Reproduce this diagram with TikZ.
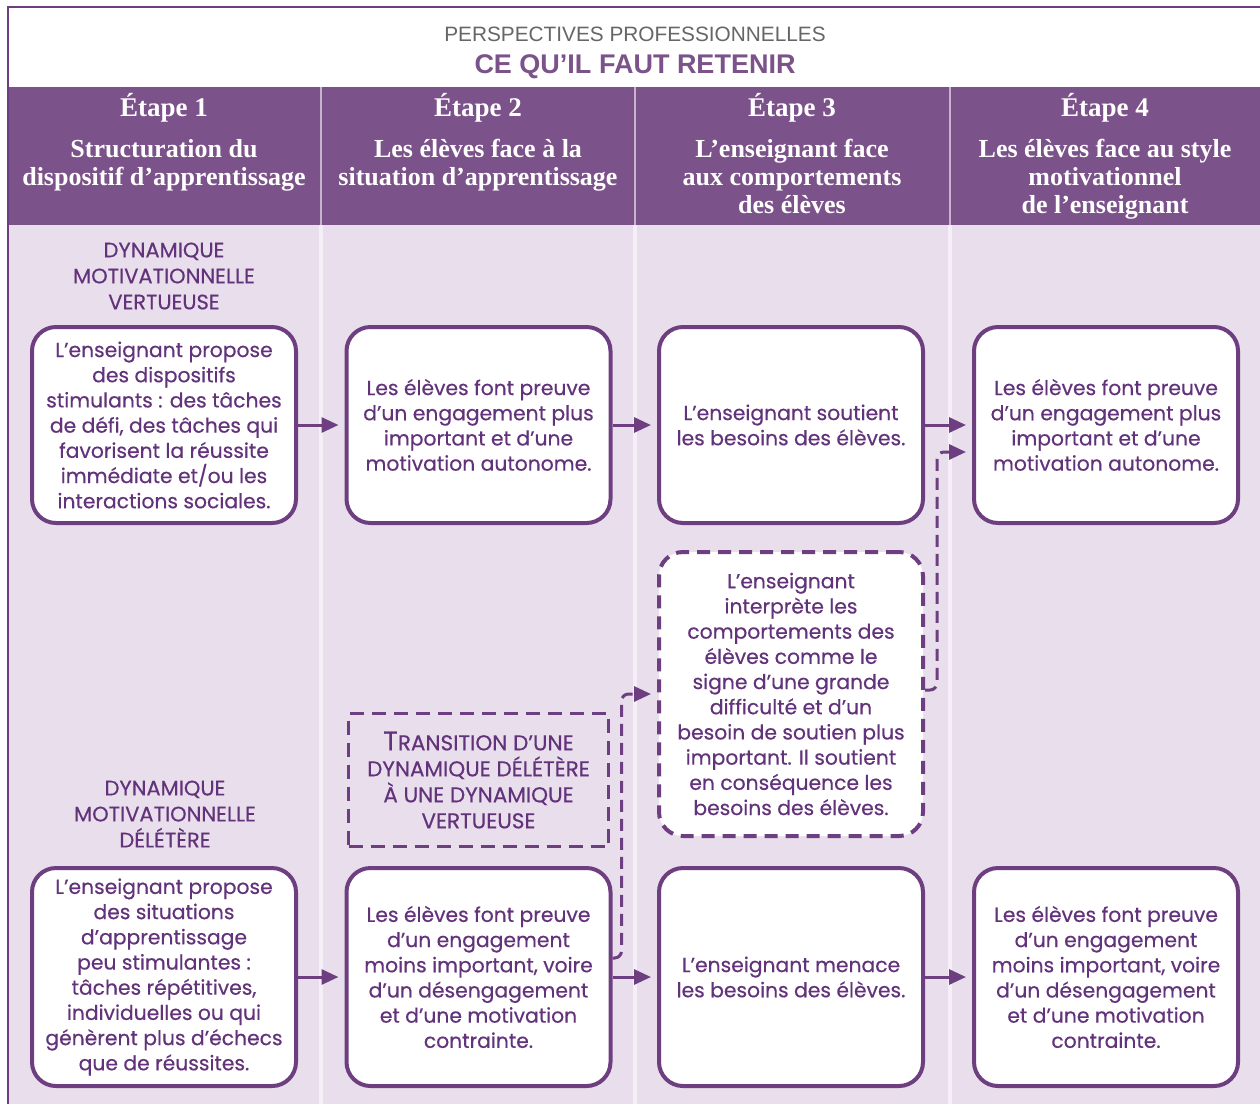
\documentclass[tikz,border=0pt]{standalone}
\usepackage{fontspec}
\setmainfont{Poppins}[FakeBold=0.4]
\newfontfamily\headfont{Liberation Serif}
\newfontfamily\titlefont{Liberation Sans}
\usetikzlibrary{positioning, arrows.meta, calc}
\definecolor{hdrpurple}{HTML}{7B5289}
\definecolor{linepurple}{HTML}{6E3F80}
\definecolor{txtpurple}{HTML}{62327A}
\definecolor{bodybg}{HTML}{E9DEEC}
\definecolor{sepline}{HTML}{F5F0F7}
\definecolor{hdrsep}{HTML}{C8B4CF}
\tikzset{
  stepbox/.style={draw=linepurple, line width=4pt, rounded corners=24pt, fill=white,
    minimum width=264pt, align=center, text=txtpurple, inner sep=0pt,
    font=\fontsize{20.3}{25.2}\selectfont},
  interpbox/.style={stepbox, dash pattern=on 13pt off 8pt},
  transbox/.style={draw=linepurple, line width=3.5pt, dash pattern=on 14pt off 8pt,
    minimum width=260pt, minimum height=133pt, align=center, text=txtpurple,
    font=\fontsize{21.5}{26}\selectfont},
  dynlabel/.style={align=center, text=txtpurple, font=\fontsize{21}{26}\selectfont},
  flowarrow/.style={draw=linepurple, line width=3pt, -{Triangle[length=17pt,width=15pt]},
    shorten >=6pt},
  dasharrow/.style={flowarrow, dash pattern=on 12pt off 7pt, rounded corners=7pt},
  etape/.style={text=white, font=\headfont\bfseries\fontsize{27}{28}\selectfont},
  etapesub/.style={text=white, align=center, anchor=north, inner sep=0pt,
    font=\headfont\bfseries\fontsize{26}{28}\selectfont}
}
\begin{document}
\begin{tikzpicture}[x=1pt, y=-1pt]
  \useasboundingbox (0,0) rectangle (1260,1104);

  % Backgrounds
  \fill[white] (0,0) rectangle (1260,1104);
  \fill[hdrpurple] (8,87) rectangle (1260,225);
  \fill[bodybg] (8,225) rectangle (1260,1104);
  \draw[linepurple, line width=2pt] (8,1104) -- (8,7) -- (1260,7);

  % Column separators
  \foreach \sx in {321,635,950} {
    \draw[hdrsep, line width=1.5pt] (\sx,87) -- (\sx,225);
    \draw[sepline, line width=3.5pt] (\sx,225) -- (\sx,1104);
  }

  % --- TITLE ---
  \node[text=black!60, font=\titlefont\fontsize{20.8}{22}\selectfont] (surtitre) at (635,34) {PERSPECTIVES PROFESSIONNELLES};
  \node[text=hdrpurple, font=\titlefont\bfseries\fontsize{27}{28}\selectfont] (titre) at (635,67) {CE QU’IL FAUT RETENIR};

  % --- HEADER COLUMNS ---
  \foreach \cx/\num/\sub in {164/1/{Structuration du\\dispositif d’apprentissage},
      478/2/{Les élèves face à la\\situation d’apprentissage},
      792/3/{L’enseignant face\\aux comportements\\des élèves},
      1105/4/{Les élèves face au style\\motivationnel\\de l’enseignant}} {
    \node[etape] (etape\num) at (\cx,108) {Étape \num};
    \node[etapesub] (sub\num) at (\cx,139) {\sub};
  }

  % --- DYNAMIC LABELS ---
  \node[dynlabel] (lblvert) at (164,276) {DYNAMIQUE\\MOTIVATIONNELLE\\VERTUEUSE};
  \node[dynlabel] (lbldel) at (165,814) {DYNAMIQUE\\MOTIVATIONNELLE\\DÉLÉTÈRE};

  % --- VIRTUOUS ROW ---
  \node[stepbox, minimum height=196pt] (vert1) at (164,425) {L’enseignant propose\\des dispositifs\\stimulants : des tâches\\de défi, des tâches qui\\favorisent la réussite\\immédiate et/ou les\\interactions sociales.};
  \node[stepbox, minimum height=196pt] (vert2) at (478.5,425) {Les élèves font preuve\\d’un engagement plus\\important et d’une\\motivation autonome.};
  \node[stepbox, minimum height=196pt] (vert3) at (791,425) {L’enseignant soutient\\les besoins des élèves.};
  \node[stepbox, minimum height=196pt] (vert4) at (1106,425) {Les élèves font preuve\\d’un engagement plus\\important et d’une\\motivation autonome.};

  % --- DELETERIOUS ROW ---
  \node[stepbox, minimum height=218pt] (del1) at (164,977) {L’enseignant propose\\des situations\\d’apprentissage\\peu stimulantes :\\tâches répétitives,\\individuelles ou qui\\génèrent plus d’échecs\\que de réussites.};
  \node[stepbox, minimum height=218pt] (del2) at (478.5,977) {Les élèves font preuve\\d’un engagement\\moins important, voire\\d’un désengagement\\et d’une motivation\\contrainte.};
  \node[stepbox, minimum height=218pt] (del3) at (791,977) {L’enseignant menace\\les besoins des élèves.};
  \node[stepbox, minimum height=218pt] (del4) at (1106,977) {Les élèves font preuve\\d’un engagement\\moins important, voire\\d’un désengagement\\et d’une motivation\\contrainte.};

  % --- TRANSITION ---
  \node[interpbox, minimum height=284pt] (interp) at (791,694) {L’enseignant\\interprète les\\comportements des\\élèves comme le\\signe d’une grande\\difficulté et d’un\\besoin de soutien plus\\important. Il soutient\\en conséquence les\\besoins des élèves.};
  \node[transbox] (trans) at (478.5,780) {{\fontsize{27}{26}\selectfont T}RANSITION D’UNE\\DYNAMIQUE DÉLÉTÈRE\\À UNE DYNAMIQUE\\VERTUEUSE};

  % Arrows
  \foreach \a/\b in {1/2,2/3,3/4} {
    \draw[flowarrow] (vert\a.east) -- (vert\b.west);
    \draw[flowarrow] (del\a.east) -- (del\b.west);
  }
  \draw[dasharrow] ([yshift=19pt]del2.east) -- ++(9,0) |- (interp.west);
  \draw[dasharrow] ([yshift=4pt]interp.east) -- ++(12,0) |- ([yshift=-27pt]vert4.west);
\end{tikzpicture}
\end{document}
